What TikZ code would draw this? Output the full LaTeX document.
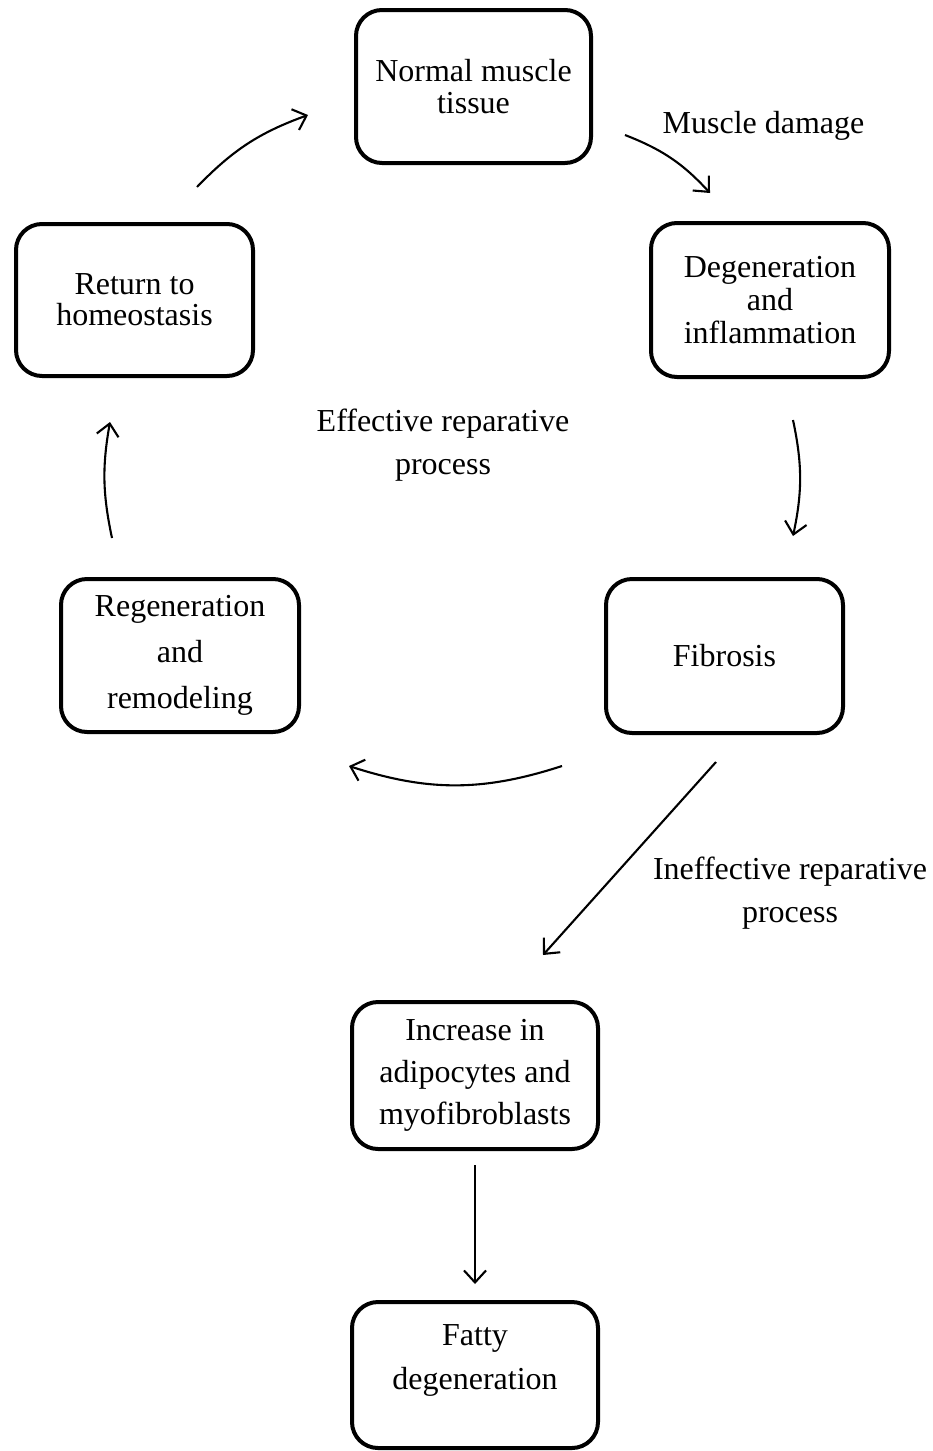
\documentclass[tikz,border=0pt]{standalone}
\usepackage{fontspec}
\setmainfont{Liberation Serif}
\usetikzlibrary{arrows.meta}
\tikzset{
  box/.style={draw, line width=4pt, rounded corners=26pt, align=center, inner sep=0pt},
  arr/.style={-{Straight Barb[length=12pt,width=22pt]}, line width=2.1pt},
  fs/.style={font=\fontsize{32}{#1}\selectfont},
  lbl/.style={align=center, anchor=base, inner sep=0pt}
}
\begin{document}
\begin{tikzpicture}[x=1pt,y=1pt]
\useasboundingbox (0,0) rectangle (933,-1451);
% boxes
\node[box, fs=32, minimum width=235pt, minimum height=153pt] (nrm) at (473.5,-86.5) {Normal muscle\\tissue};
\node[box, fs=33, minimum width=238pt, minimum height=154pt] (deg) at (770,-300) {Degeneration\\and\\inflammation};
\node[box, fs=31, minimum width=237pt, minimum height=152pt] (ret) at (134.5,-300) {Return to\\homeostasis};
\node[box, fs=46, minimum width=238pt, minimum height=153pt] (reg) at (180,-655.5) {Regeneration\\and\\remodeling};
\node[box, fs=32, minimum width=237pt, minimum height=154pt] (fib) at (724.5,-656) {Fibrosis};
\node[box, fs=42, minimum width=246pt, minimum height=147pt] (inc) at (475,-1075.5) {Increase in\\adipocytes and\\myofibroblasts};
\node[box, fs=44, minimum width=246pt, minimum height=146pt] (fat) at (475,-1375) {Fatty\\degeneration\\[-8pt]\mbox{}};
% labels (base = last line's baseline)
\node[lbl, fs=43] (lmd) at (763.5,-133) {Muscle damage};
\node[lbl, fs=43] (lef) at (443,-474) {Effective reparative\\process};
\node[lbl, fs=43] (lin) at (790,-922) {Ineffective reparative\\process};
% cycle arrows
\draw[arr] ([shift={(32,-48.5)}]nrm.east) to[bend left=13] ([shift={(-60,28)}]deg.north);
\draw[arr] ([shift={(23,-41)}]deg.south) to[bend left=12] ([shift={(68.5,41)}]fib.north);
\draw[arr] ([shift={(-162.5,-31)}]fib.south) to[bend left=18] ([shift={(48,-32)}]reg.south east);
\draw[arr] ([shift={(-68,39)}]reg.north) to[bend left=11] ([shift={(-24.5,-44)}]ret.south);
\draw[arr] ([shift={(62.5,35)}]ret.north) to[bend left=13] ([shift={(-46,-28.5)}]nrm.west);
% straight arrows
\draw[arr] ([shift={(-8.5,-27)}]fib.south) -- ([shift={(68,45)}]inc.north);
\draw[arr] ([yshift=-14]inc.south) -- ([yshift=16]fat.north);
\end{tikzpicture}
\end{document}
